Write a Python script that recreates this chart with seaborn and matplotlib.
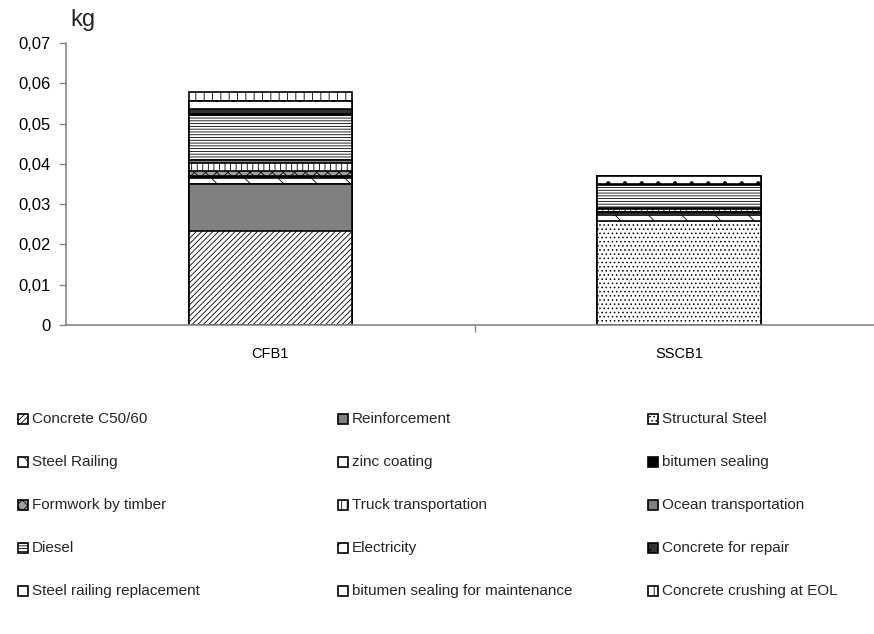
import numpy as np
import matplotlib
matplotlib.use("Agg")
import matplotlib.pyplot as plt
from matplotlib.patches import Rectangle
from matplotlib.ticker import FuncFormatter
import seaborn as sns

categories = ["CFB1", "SSCB1"]
components = ["Concrete C50/60", "Reinforcement", "Structural Steel",
              "Steel Railing", "zinc coating", "bitumen sealing",
              "Formwork by timber", "Truck transportation", "Ocean transportation",
              "Diesel", "Electricity", "Concrete for repair",
              "Steel railing replacement", "bitumen sealing for maintenance",
              "Concrete crushing at EOL"]
cfb1 = [0.0233, 0.0117, 0.0, 0.0015, 0.0002, 0.0003, 0.0012, 0.0020, 0.0008,
        0.0112, 0.0001, 0.0012, 0.0020, 0.0001, 0.0022]
sscb1 = [0.0, 0.0, 0.0258, 0.0015, 0.0005, 0.0003, 0.0, 0.0007, 0.0003,
         0.0057, 0.0, 0.0003, 0.0020, 0.0, 0.0]
yticks = [0, 0.01, 0.02, 0.03, 0.04, 0.05, 0.06, 0.07]

styles = [("white", "//////"), ("#808080", ""), ("white", "...."),
          ("white", "\\"), ("white", ""), ("black", ""),
          ("#a0a0a0", "xxx"), ("white", "|||"), ("#808080", ""),
          ("white", "------"), ("white", "//"), ("#333333", ".."),
          ("white", "."), ("white", ""), ("white", "||")]

sns.set_theme(style="white")
plt.rcParams["font.family"] = ["Liberation Sans", "DejaVu Sans"]
plt.rcParams["hatch.linewidth"] = 0.6
plt.rcParams["hatch.color"] = "black"

W, H = 874, 634
fig = plt.figure(figsize=(W / 100, H / 100), dpi=100)
ax = fig.add_axes([66 / W, 1 - 325 / H, (874 - 66) / W, (325 - 43) / H])

cum_c = np.cumsum(cfb1)
cum_s = np.cumsum(sscb1)
for i in range(len(components) - 1, -1, -1):
    face, hatch = styles[i]
    sns.barplot(x=categories, y=[cum_c[i], cum_s[i]], color=face, saturation=1,
                hatch=hatch, edgecolor="black", linewidth=1.2, width=0.4,
                errorbar=None, ax=ax)

ax.set_xlim(-0.5, (874 - 270) / 409)
ax.set_ylim(0, 0.07)
ax.set_yticks(yticks)
ax.yaxis.set_major_formatter(FuncFormatter(
    lambda v, p: "0" if abs(v) < 1e-9 else f"{v:.2f}".replace(".", ",")))
for s in ["top", "right"]:
    ax.spines[s].set_visible(False)
for s in ["left", "bottom"]:
    ax.spines[s].set_color("#888888")
    ax.spines[s].set_linewidth(1.2)
ax.tick_params(axis="y", which="major", left=True, length=5, color="#888888",
               width=1, labelsize=12, pad=6, labelcolor="black")
ax.set_xticks([0.5], minor=True)
ax.tick_params(axis="x", which="minor", bottom=True, length=5, color="#888888", width=1)
ax.tick_params(axis="x", which="major", bottom=False, labelsize=10.5, pad=10,
               labelcolor="black")
ax.set_xlabel("")
ax.set_ylabel("")
ax.grid(False)

fig.text(70 / W, 1 - 20 / H, "kg", fontsize=17, ha="left", va="center")

col_x = [18, 338, 648]
for i, name in enumerate(components):
    r, c = divmod(i, 3)
    y = 419 + 43 * r
    face, hatch = styles[i]
    fig.patches.append(Rectangle((col_x[c] / W, 1 - (y + 5) / H), 10 / W, 10 / H,
                                 transform=fig.transFigure, facecolor=face,
                                 hatch=hatch, edgecolor="black", linewidth=1.2))
    fig.text((col_x[c] + 14) / W, 1 - y / H, name, fontsize=11, ha="left",
             va="center")

fig.savefig("out.png", dpi=100)
